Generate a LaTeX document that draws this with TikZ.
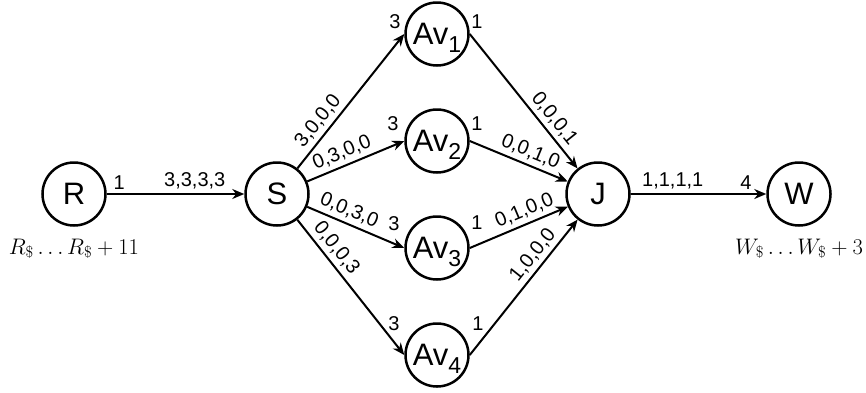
\documentclass[tikz,border=0pt]{standalone}
\usepackage{graphicx}
\usepackage{fontspec}
\setsansfont{Liberation Sans}
\usetikzlibrary{arrows.meta,calc}
\newcommand\avsub[1]{\raisebox{-8pt}{\fontsize{23}{23}\selectfont #1}}
\begin{document}
\begin{tikzpicture}[x=1pt,y=-1pt,
  state/.style={circle,draw,line width=2.5pt,minimum size=63pt,inner sep=0pt,text depth=0pt,
    font=\sffamily\fontsize{31}{31}\selectfont},
  edge/.style={line width=2pt,-{Stealth[length=12pt,width=10pt]}},
  lbl/.style={font=\sffamily\fontsize{20}{20}\selectfont,inner sep=0pt},
  elbl/.style={lbl,sloped,above=4pt},
  hlbl/.style={lbl,above=4pt},
  mlbl/.style={font=\fontsize{20.74}{20.74}\selectfont,inner sep=0pt,anchor=base}
]
\useasboundingbox (0,0) rectangle (866,392);

\node[state] (R) at (74,194) {R};
\node[state] (S) at (277,194) {S};
\node[state] (Av1) at (437,34) {Av\avsub{1}};
\node[state] (Av2) at (437,141) {Av\avsub{2}};
\node[state] (Av3) at (437,248) {Av\avsub{3}};
\node[state] (Av4) at (437,355) {Av\avsub{4}};
\node[state] (J) at (598,194) {J};
\node[state] (W) at (799,194) {W};

\node[mlbl] (Rl) at (74,254) {\scalebox{1.085}{$R_\$\ldots R_\$+11$}};
\node[mlbl] (Wl) at (799,254) {\scalebox{1.085}{$W_\$\ldots W_\$+3$}};

\draw[edge] (R) -- node[hlbl,pos=0.09]{1} node[hlbl,pos=0.64]{3,3,3,3} (S);
\draw[edge] (J) -- node[hlbl,pos=0.31]{1,1,1,1} node[hlbl,pos=0.85]{4} (W);

\draw[edge] (S) -- node[elbl,pos=0.29]{3,0,0,0} (Av1.west);
\draw[edge] (S) -- node[elbl,pos=0.41]{0,3,0,0} (Av2.west);
\draw[edge] (S) -- node[elbl,pos=0.38]{0,0,3,0} (Av3.west);
\draw[edge] (S) -- node[elbl,pos=0.27]{0,0,0,3} (Av4.west);

\draw[edge] (Av1.east) -- node[elbl,pos=0.69]{0,0,0,1} (J);
\draw[edge] (Av2.east) -- node[elbl,pos=0.57]{0,0,1,0} (J);
\draw[edge] (Av3.east) -- node[elbl,pos=0.61]{0,1,0,0} (J);
\draw[edge] (Av4.east) -- node[elbl,pos=0.68]{1,0,0,0} (J);

\node[lbl] (a1i) at ($(Av1)+(-42,-12)$) {3};
\node[lbl] (a1o) at ($(Av1)+(40,-12)$) {1};
\node[lbl] (a2i) at ($(Av2)+(-44,-17)$) {3};
\node[lbl] (a2o) at ($(Av2)+(40,-17)$) {1};
\node[lbl] (a3i) at ($(Av3)+(-43,-24)$) {3};
\node[lbl] (a3o) at ($(Av3)+(40,-25)$) {1};
\node[lbl] (a4i) at ($(Av4)+(-43,-31)$) {3};
\node[lbl] (a4o) at ($(Av4)+(41,-31)$) {1};
\end{tikzpicture}
\end{document}
